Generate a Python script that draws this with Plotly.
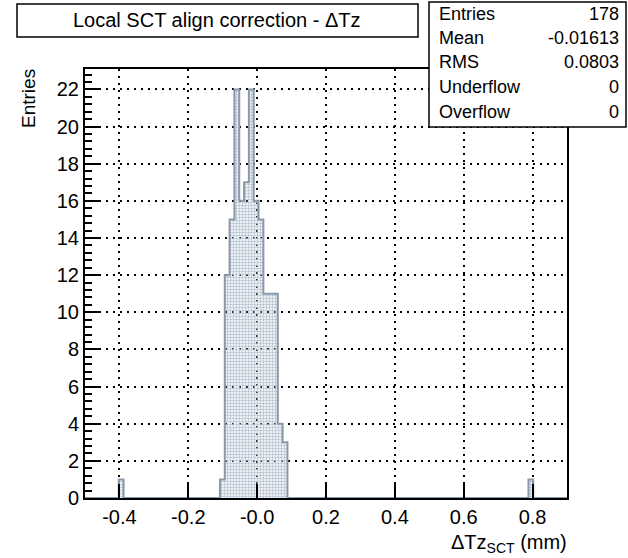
import plotly.graph_objects as go

# ---------------- data ----------------
x_min, x_max, n_bins = -0.5, 0.9, 100
bin_width = (x_max - x_min) / n_bins
bin_centers = [-0.395, -0.101, -0.087, -0.073, -0.059, -0.045, -0.031, -0.017,
               -0.003, 0.011, 0.025, 0.039, 0.053, 0.067, 0.081, 0.795]
bin_counts = [1, 1, 12, 15, 22, 16, 17, 22, 16, 15, 11, 11, 11, 4, 3, 1]

x_tickvals = [-0.4, -0.2, 0.0, 0.2, 0.4, 0.6, 0.8]
x_ticktext = ["-0.4", "-0.2", "-0.0", "0.2", "0.4", "0.6", "0.8"]
y_tickvals = list(range(0, 23, 2))

stats_labels = ["Entries", "Mean", "RMS", "Underflow", "Overflow"]
stats_values = ["178", "-0.01613", "0.0803", "0", "0"]

title_text = "Local SCT align correction - \u0394Tz"
x_title = "\u0394Tz<sub>SCT</sub> (mm)"
y_title = "Entries"

# ---------------- geometry ----------------
W, H = 628, 558
L, R, T, B = 85, 567, 69, 498
FONT = "Liberation Sans, Arial, Helvetica, sans-serif"
y_max = max(bin_counts) * 1.05


def px2x(px):
    return (px - L) / (R - L)


def px2y(py):
    return (B - py) / (B - T)


# full histogram outline (step)
full = [0] * n_bins
for c, n in zip(bin_centers, bin_counts):
    k = int(round((c - x_min) / bin_width - 0.5))
    full[k] = n
step_x = [x_min + k * bin_width for k in range(n_bins)] + [x_max]
step_y = full + [0]

fill_col = "#b3c0ce"
line_col = "#8a99a9"

fig = go.Figure()
fig.add_trace(go.Bar(
    x=bin_centers, y=bin_counts, width=bin_width,
    marker=dict(color=fill_col, line=dict(width=0),
                pattern=dict(shape=".", size=3, solidity=0.5, fillmode="replace")),
    showlegend=False, hoverinfo="skip"))
fig.add_trace(go.Scatter(
    x=step_x, y=step_y, mode="lines", line=dict(shape="hv", color=line_col, width=2),
    showlegend=False, hoverinfo="skip"))

axis_common = dict(
    showline=True, linecolor="black", linewidth=2, mirror=True,
    ticks="inside", ticklen=14, tickwidth=2, tickcolor="black",
    showgrid=True, gridcolor="black", gridwidth=1.5, griddash="2px,5px",
    zeroline=False, tickfont=dict(family=FONT, size=20, color="black"),
)

fig.update_xaxes(range=[x_min, x_max], tickmode="array", tickvals=x_tickvals,
                 ticktext=x_ticktext, **axis_common)
fig.update_yaxes(range=[0, y_max], tickmode="array", tickvals=y_tickvals,
                 minor=dict(ticks="inside", ticklen=7, tickwidth=1.5, tickcolor="black",
                            dtick=0.4, tick0=0, showgrid=False),
                 **axis_common)

shapes = [
    # title box
    dict(type="rect", xref="paper", yref="paper", x0=px2x(17), x1=px2x(418),
         y0=px2y(37), y1=px2y(4), line=dict(color="black", width=1.5),
         fillcolor="white", layer="above"),
    # stats box
    dict(type="rect", xref="paper", yref="paper", x0=px2x(429), x1=px2x(626),
         y0=px2y(127), y1=px2y(2), line=dict(color="black", width=1.5),
         fillcolor="white", layer="above"),
]

annotations = [
    dict(text=title_text, x=px2x(217), y=px2y(20), xref="paper", yref="paper",
         xanchor="center", yanchor="middle", showarrow=False,
         font=dict(family=FONT, size=20, color="black")),
    dict(text=y_title, x=px2x(28.5), y=px2y(67), xref="paper", yref="paper",
         xanchor="center", yanchor="top", textangle=-90, showarrow=False,
         font=dict(family=FONT, size=19, color="black")),
    dict(text=x_title, x=px2x(569), y=px2y(543), xref="paper", yref="paper",
         xanchor="right", yanchor="middle", showarrow=False,
         font=dict(family=FONT, size=20, color="black")),
]
row_y = [14, 38, 62, 87, 112]
for lab, val, ry in zip(stats_labels, stats_values, row_y):
    annotations.append(dict(text=lab, x=px2x(437), y=px2y(ry), xref="paper", yref="paper",
                            xanchor="left", yanchor="middle", showarrow=False,
                            font=dict(family=FONT, size=18, color="black")))
    annotations.append(dict(text=val, x=px2x(621), y=px2y(ry), xref="paper", yref="paper",
                            xanchor="right", yanchor="middle", showarrow=False,
                            font=dict(family=FONT, size=18, color="black")))

fig.update_layout(
    width=W, height=H, margin=dict(l=L, r=W - R, t=T, b=H - B),
    paper_bgcolor="white", plot_bgcolor="white",
    shapes=shapes, annotations=annotations, bargap=0, showlegend=False,
)

fig.write_html("out.html", config={"displayModeBar": False},
               post_script="document.body.style.margin='0px';document.body.style.padding='0px';")
